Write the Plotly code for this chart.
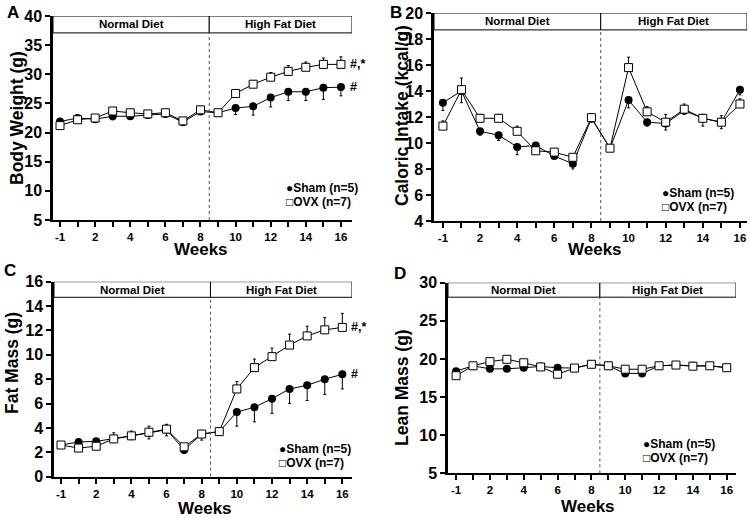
import plotly.graph_objects as go

# ---------------- data ----------------
weeks = [-1, 1, 2, 3, 4, 5, 6, 7, 8, 9, 10, 11, 12, 13, 14, 15, 16]
week_ticktext = ['-1', '', '2', '', '4', '', '6', '', '8', '', '10', '', '12', '', '14', '', '16']

sham_bw = [21.9, 22.5, 22.3, 22.8, 22.8, 23.0, 23.2, 21.8, 23.6, 23.4, 24.2, 24.5, 26.0, 27.0, 27.0, 27.7, 27.8]
ovx_bw = [21.2, 22.2, 22.5, 23.7, 23.4, 23.2, 23.4, 22.0, 23.9, 23.4, 26.7, 28.3, 29.5, 30.5, 31.2, 31.7, 31.7]
sham_bw_err = [0.4, 0.5, 0.4, 0.6, 0.4, 0.5, 0.6, 0.6, 0.4, 0.3, 1.1, 1.5, 1.6, 1.5, 1.5, 2.0, 1.5]
ovx_bw_err = [0.3, 0.4, 0.3, 0.4, 0.4, 0.4, 0.5, 0.5, 0.6, 0.3, 0.7, 0.6, 0.8, 1.0, 0.9, 1.1, 1.3]

sham_ci = [13.1, 14.0, 10.9, 10.6, 9.7, 9.8, 9.0, 8.4, 11.9, 9.6, 13.3, 11.6, 11.5, 12.5, 11.9, 11.6, 14.1]
ovx_ci = [11.3, 14.1, 11.9, 11.9, 10.9, 9.4, 9.3, 8.9, 11.95, 9.6, 15.8, 12.4, 11.6, 12.6, 11.9, 11.6, 13.0]
sham_ci_err = [0.6, 0.9, 0.3, 0.4, 0.6, 0.2, 0.2, 0.4, 0.3, 0.2, 0.6, 0.3, 0.5, 0.3, 0.6, 0.5, 0.4]
ovx_ci_err = [0.4, 0.9, 0.3, 0.3, 0.4, 0.2, 0.2, 0.2, 0.3, 0.2, 0.8, 0.4, 0.6, 0.4, 0.3, 0.5, 0.4]

sham_fm = [2.6, 2.85, 2.9, 3.1, 3.35, 3.6, 3.85, 2.2, 3.5, 3.7, 5.3, 5.7, 6.4, 7.2, 7.5, 8.0, 8.4]
ovx_fm = [2.6, 2.35, 2.5, 3.1, 3.35, 3.65, 3.9, 2.45, 3.5, 3.7, 7.2, 8.95, 9.85, 10.8, 11.55, 12.05, 12.25]
sham_fm_err = [0.15, 0.2, 0.3, 0.3, 0.3, 0.5, 0.5, 0.3, 0.5, 0.2, 1.15, 1.2, 1.2, 1.2, 1.25, 1.25, 1.2]
ovx_fm_err = [0.15, 0.2, 0.3, 0.5, 0.4, 0.5, 0.4, 0.2, 0.3, 0.2, 0.6, 0.7, 0.7, 0.9, 0.8, 1.0, 1.15]

sham_lm = [18.4, 19.1, 18.7, 18.7, 18.85, 19.0, 18.85, 18.8, 19.3, 19.1, 18.1, 18.1, 19.1, 19.2, 19.1, 19.1, 18.85]
ovx_lm = [17.8, 19.1, 19.65, 19.95, 19.5, 18.95, 18.0, 18.8, 19.3, 19.1, 18.65, 18.65, 19.1, 19.2, 19.05, 19.1, 18.85]
sham_lm_err = [0.3, 0.3, 0.3, 0.3, 0.3, 0.3, 0.3, 0.3, 0.3, 0.3, 0.3, 0.3, 0.3, 0.3, 0.3, 0.3, 0.3]
ovx_lm_err = [0.3, 0.3, 0.3, 0.3, 0.3, 0.3, 0.3, 0.3, 0.3, 0.3, 0.3, 0.3, 0.3, 0.3, 0.3, 0.3, 0.3]

sham_label = "Sham (n=5)"
ovx_label = "OVX (n=7)"
diet_labels = ["Normal Diet", "High Fat Diet"]
diet_switch = 8.5
# --------------------------------------

W, H = 750, 518
FONT = "Liberation Sans, Arial, sans-serif"
pos = list(range(len(weeks)))  # evenly spaced week positions

panels = [
    dict(letter="A", sham=sham_bw, ovx=ovx_bw, se=sham_bw_err, oe=ovx_bw_err, ytitle="Body Weight (g)",
         yr=[5, 40], dt=5, xd=(53, 352), yd=(16, 220), xr=[-0.4, 16.63], bb=37.1,
         leg=(284, 188), yt=(17, 118), xt=(201, 249), lp=(5, 1), sig=True),
    dict(letter="B", sham=sham_ci, ovx=ovx_ci, se=sham_ci_err, oe=ovx_ci_err, ytitle="Caloric Intake (kcal/g)",
         yr=[4, 20], dt=2, xd=(434, 747), yd=(13, 221), xr=[-0.48, 16.38], bb=18.7,
         leg=(660, 193), yt=(402, 116), xt=(595, 250), lp=(388, 1), sig=False),
    dict(letter="C", sham=sham_fm, ovx=ovx_fm, se=sham_fm_err, oe=ovx_fm_err, ytitle="Fat Mass (g)",
         yr=[0, 16], dt=2, xd=(54, 352), yd=(281.7, 476.7), xr=[-0.4, 16.55], bb=14.72,
         leg=(277, 449), yt=(12, 363), xt=(205, 508), lp=(2, 259), sig=True),
    dict(letter="D", sham=sham_lm, ovx=ovx_lm, se=sham_lm_err, oe=ovx_lm_err, ytitle="Lean Mass (g)",
         yr=[5, 30], dt=5, xd=(448, 736), yd=(282.7, 473.3), xr=[-0.48, 16.55], bb=28.1,
         leg=(641, 444), yt=(402, 388), xt=(588, 506), lp=(392, 262), sig=False),
]

fig = go.Figure()
layout = dict(width=W, height=H, margin=dict(l=0, r=0, t=0, b=0, pad=0, autoexpand=False),
              paper_bgcolor="white", plot_bgcolor="white", showlegend=False,
              font=dict(family=FONT, color="black"))
shapes, annotations = [], []

for i, p in enumerate(panels):
    k = "" if i == 0 else str(i + 1)
    xa, ya = "x" + k, "y" + k
    n = len(pos)
    fig.add_trace(go.Scatter(
        x=pos, y=p["sham"], mode="lines+markers", xaxis=xa, yaxis=ya, name=sham_label,
        line=dict(color="black", width=1),
        marker=dict(symbol="circle", size=8, color="black"),
        error_y=dict(type="data", symmetric=False, array=[0] * n, arrayminus=p["se"],
                     color="black", thickness=1, width=1.5)))
    fig.add_trace(go.Scatter(
        x=pos, y=p["ovx"], mode="lines+markers", xaxis=xa, yaxis=ya, name=ovx_label,
        line=dict(color="black", width=1),
        marker=dict(symbol="square", size=8, color="white", line=dict(color="black", width=1)),
        error_y=dict(type="data", symmetric=False, array=p["oe"], arrayminus=[0] * n,
                     color="black", thickness=1, width=1.5)))

    layout["xaxis" + k] = dict(
        domain=[p["xd"][0] / W, p["xd"][1] / W], anchor=ya, range=p["xr"],
        tickmode="array", tickvals=pos, ticktext=week_ticktext,
        ticks="outside", ticklen=5, tickwidth=2, tickcolor="black",
        showline=True, linecolor="black", linewidth=2, showgrid=False, zeroline=False,
        tickfont=dict(size=11.5, family=FONT, weight="bold", color="black"))
    layout["yaxis" + k] = dict(
        domain=[1 - p["yd"][1] / H, 1 - p["yd"][0] / H], anchor=xa, range=p["yr"],
        dtick=p["dt"], tick0=0, ticks="outside", ticklen=5, tickwidth=2, tickcolor="black",
        showline=True, linecolor="black", linewidth=2.5, showgrid=False, zeroline=False,
        tickfont=dict(size=16, family=FONT, weight="bold", color="black"))

    # diet banner
    top = p["yr"][1]
    shapes.append(dict(type="rect", xref=xa, yref=ya, x0=p["xr"][0], x1=diet_switch,
                       y0=p["bb"], y1=top, line=dict(color="black", width=1), fillcolor="white", layer="below"))
    shapes.append(dict(type="rect", xref=xa, yref=ya, x0=diet_switch, x1=p["xr"][1],
                       y0=p["bb"], y1=top, line=dict(color="black", width=1), fillcolor="white", layer="below"))
    shapes.append(dict(type="line", xref=xa, yref=ya, x0=diet_switch, x1=diet_switch,
                       y0=p["yr"][0], y1=p["bb"], line=dict(color="#555555", width=1, dash="dot")))
    ymid = (p["bb"] + top) / 2
    annotations.append(dict(xref=xa, yref=ya, x=(p["xr"][0] + diet_switch) / 2, y=ymid,
                            text=diet_labels[0], showarrow=False,
                            font=dict(size=11.5, family=FONT, weight="bold")))
    annotations.append(dict(xref=xa, yref=ya, x=(diet_switch + p["xr"][1]) / 2, y=ymid,
                            text=diet_labels[1], showarrow=False,
                            font=dict(size=11.5, family=FONT, weight="bold")))

    # axis titles
    annotations.append(dict(xref="paper", yref="paper", x=p["yt"][0] / W, y=1 - p["yt"][1] / H,
                            text=p["ytitle"], textangle=-90, showarrow=False,
                            xanchor="center", yanchor="middle",
                            font=dict(size=17.5, family=FONT, weight="bold")))
    annotations.append(dict(xref="paper", yref="paper", x=p["xt"][0] / W, y=1 - p["xt"][1] / H,
                            text="Weeks", showarrow=False, xanchor="center", yanchor="middle",
                            font=dict(size=17, family=FONT, weight="bold")))
    # panel letter
    annotations.append(dict(xref="paper", yref="paper", x=p["lp"][0] / W, y=1 - p["lp"][1] / H,
                            text=p["letter"], showarrow=False, xanchor="left", yanchor="top",
                            font=dict(size=17, family=FONT, weight="bold")))
    # legend
    lx, ly = p["leg"]
    annotations.append(dict(xref="paper", yref="paper", x=lx / W, y=1 - ly / H,
                            text="\u25cf" + sham_label, showarrow=False, xanchor="left", yanchor="middle",
                            font=dict(size=12, family=FONT, weight="bold")))
    annotations.append(dict(xref="paper", yref="paper", x=lx / W, y=1 - (ly + 14) / H,
                            text="\u25a1" + ovx_label, showarrow=False, xanchor="left", yanchor="middle",
                            font=dict(size=12, family=FONT, weight="bold")))
    # significance marks
    if p["sig"]:
        annotations.append(dict(xref=xa, yref=ya, x=pos[-1], y=p["ovx"][-1], text="#,*",
                                showarrow=False, xanchor="left", yanchor="middle", xshift=7,
                                font=dict(size=12.5, family=FONT, weight="bold")))
        annotations.append(dict(xref=xa, yref=ya, x=pos[-1], y=p["sham"][-1], text="#",
                                showarrow=False, xanchor="left", yanchor="middle", xshift=7,
                                font=dict(size=12.5, family=FONT, weight="bold")))

layout["shapes"] = shapes
layout["annotations"] = annotations
fig.update_layout(**layout)
fig.write_html("out.html", config={"displayModeBar": False},
               post_script="document.body.style.margin='0';document.body.style.overflow='hidden';")
